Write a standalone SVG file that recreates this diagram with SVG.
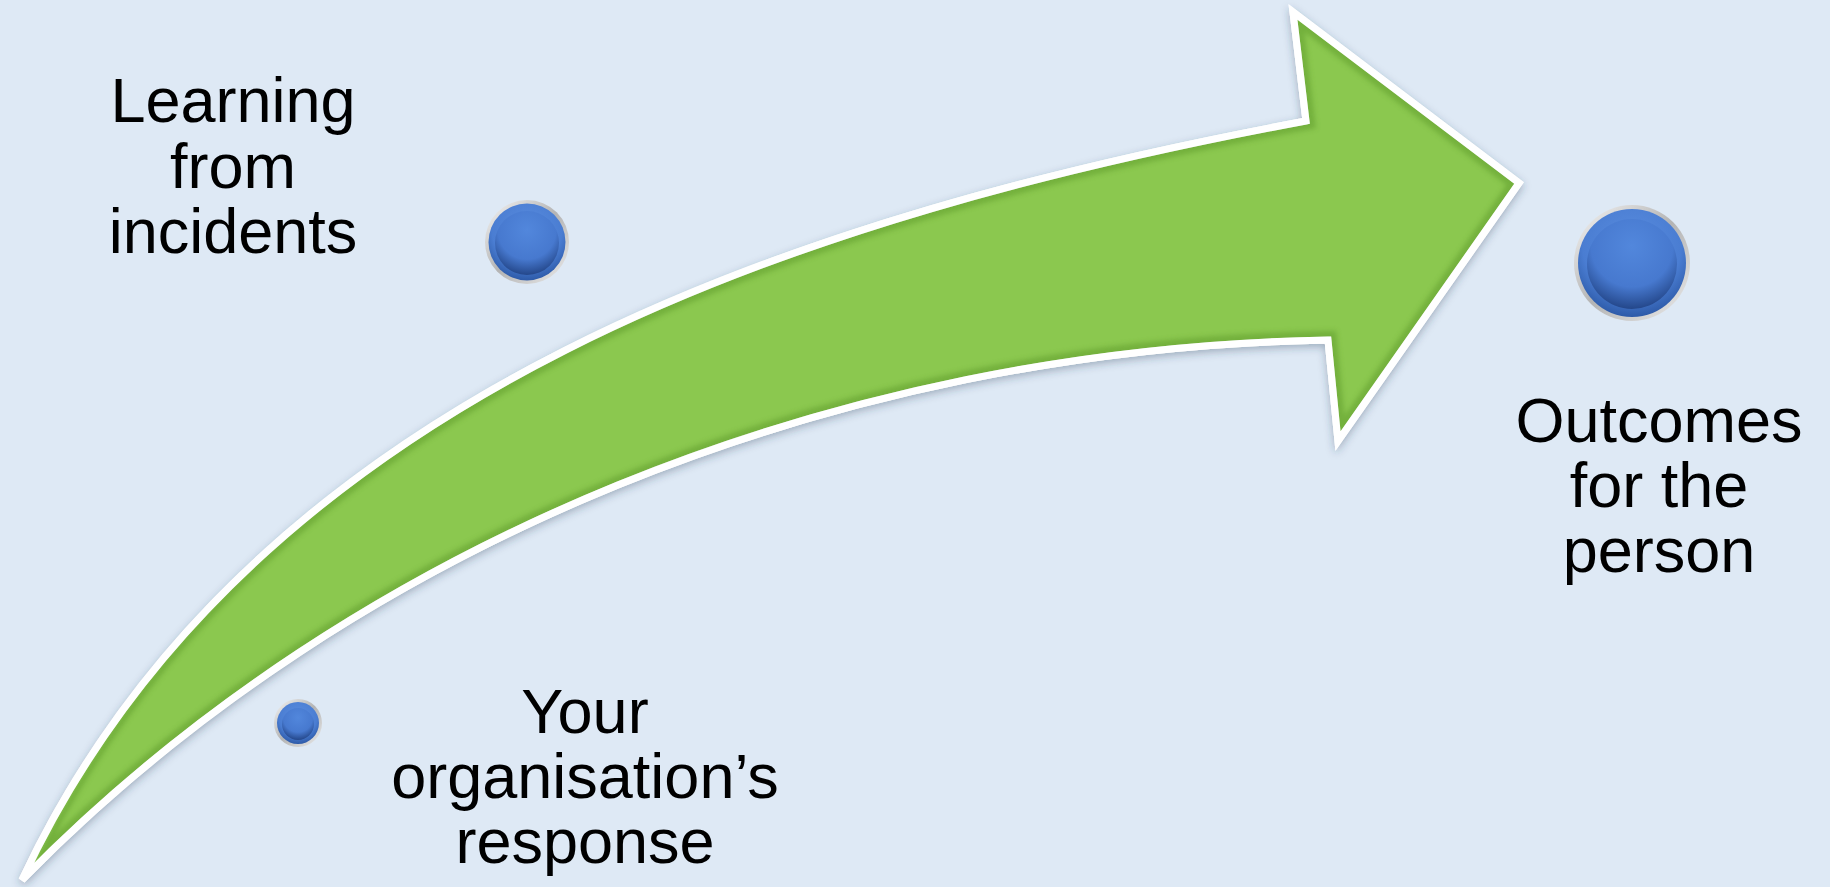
<svg xmlns="http://www.w3.org/2000/svg" width="1830" height="887" viewBox="0 0 1830 887">
<defs>
<style>
.lbl{font-family:"Liberation Sans",Arial,sans-serif;font-size:63px;fill:#000;text-anchor:middle}
</style>
<filter id="shadow" x="-10%" y="-10%" width="120%" height="130%">
<feDropShadow dx="0" dy="3" stdDeviation="4" flood-color="#2a3a55" flood-opacity="0.35"/>
</filter>
<filter id="blur3"><feGaussianBlur stdDeviation="2.5"/></filter>
<filter id="blur2"><feGaussianBlur stdDeviation="2"/></filter>
<clipPath id="arrowClip">
<path d="M22,880 C252,387 814,213 1306,121 L1293,12 L1519,183 L1338,441 L1328,340 C842,348 357,538 22,880 Z"/>
</clipPath>
<linearGradient id="ring" x1="0" y1="0" x2="1" y2="1">
<stop offset="0" stop-color="#f6f6f6"/>
<stop offset="0.5" stop-color="#b4b4b4"/>
<stop offset="1" stop-color="#ececec"/>
</linearGradient>
<radialGradient id="disc" cx="0.5" cy="0.35" r="0.65">
<stop offset="0" stop-color="#5b8ee0"/>
<stop offset="0.7" stop-color="#4a7dd2"/>
<stop offset="1" stop-color="#2d5aa8"/>
</radialGradient>
<radialGradient id="inner" cx="0.5" cy="0.3" r="0.7">
<stop offset="0" stop-color="#5287dc"/>
<stop offset="0.65" stop-color="#4779cf"/>
<stop offset="1" stop-color="#24478a"/>
</radialGradient>
</defs>
<rect x="0" y="0" width="1830" height="887" fill="#dee9f5"/>

<g id="arrow">
<path d="M22,880 C252,387 814,213 1306,121 L1293,12 L1519,183 L1338,441 L1328,340 C842,348 357,538 22,880 Z" fill="#8bc850" stroke="#ffffff" stroke-width="7" stroke-linejoin="miter" filter="url(#shadow)"/>
<g clip-path="url(#arrowClip)">
<path d="M22,880 C252,387 814,213 1306,121 L1293,12 L1519,183 L1338,441 L1328,340 C842,348 357,538 22,880 Z" fill="none" stroke="#5d9a2c" stroke-width="18" opacity="0.5" filter="url(#blur3)"/>
<path d="M22,872 C252,379 814,205 1306,113" fill="none" stroke="#a6e070" stroke-width="14" opacity="0.55" filter="url(#blur2)"/>
</g>
<path d="M22,880 C252,387 814,213 1306,121 L1293,12 L1519,183 L1338,441 L1328,340 C842,348 357,538 22,880 Z" fill="none" stroke="#ffffff" stroke-width="7" stroke-linejoin="miter"/>
</g>

<g id="node-learning">
<circle cx="527" cy="242" r="42" fill="url(#ring)"/>
<circle cx="527" cy="242" r="38.5" fill="url(#disc)"/>
<circle cx="527" cy="243" r="32" fill="url(#inner)"/>
<text class="lbl" x="233" y="122">Learning</text>
<text class="lbl" x="233" y="188">from</text>
<text class="lbl" x="233" y="253">incidents</text>
</g>

<g id="node-outcomes">
<circle cx="1632" cy="263" r="58" fill="url(#ring)"/>
<circle cx="1632" cy="263" r="54" fill="url(#disc)"/>
<circle cx="1632" cy="264" r="45" fill="url(#inner)"/>
<text class="lbl" x="1659" y="442">Outcomes</text>
<text class="lbl" x="1659" y="507">for the</text>
<text class="lbl" x="1659" y="572">person</text>
</g>

<g id="node-response">
<circle cx="298" cy="723" r="24" fill="url(#ring)"/>
<circle cx="298" cy="723" r="21" fill="url(#disc)"/>
<circle cx="298" cy="724" r="16" fill="url(#inner)"/>
<text class="lbl" x="585" y="733">Your</text>
<text class="lbl" x="585" y="798">organisation’s</text>
<text class="lbl" x="585" y="863">response</text>
</g>
</svg>
